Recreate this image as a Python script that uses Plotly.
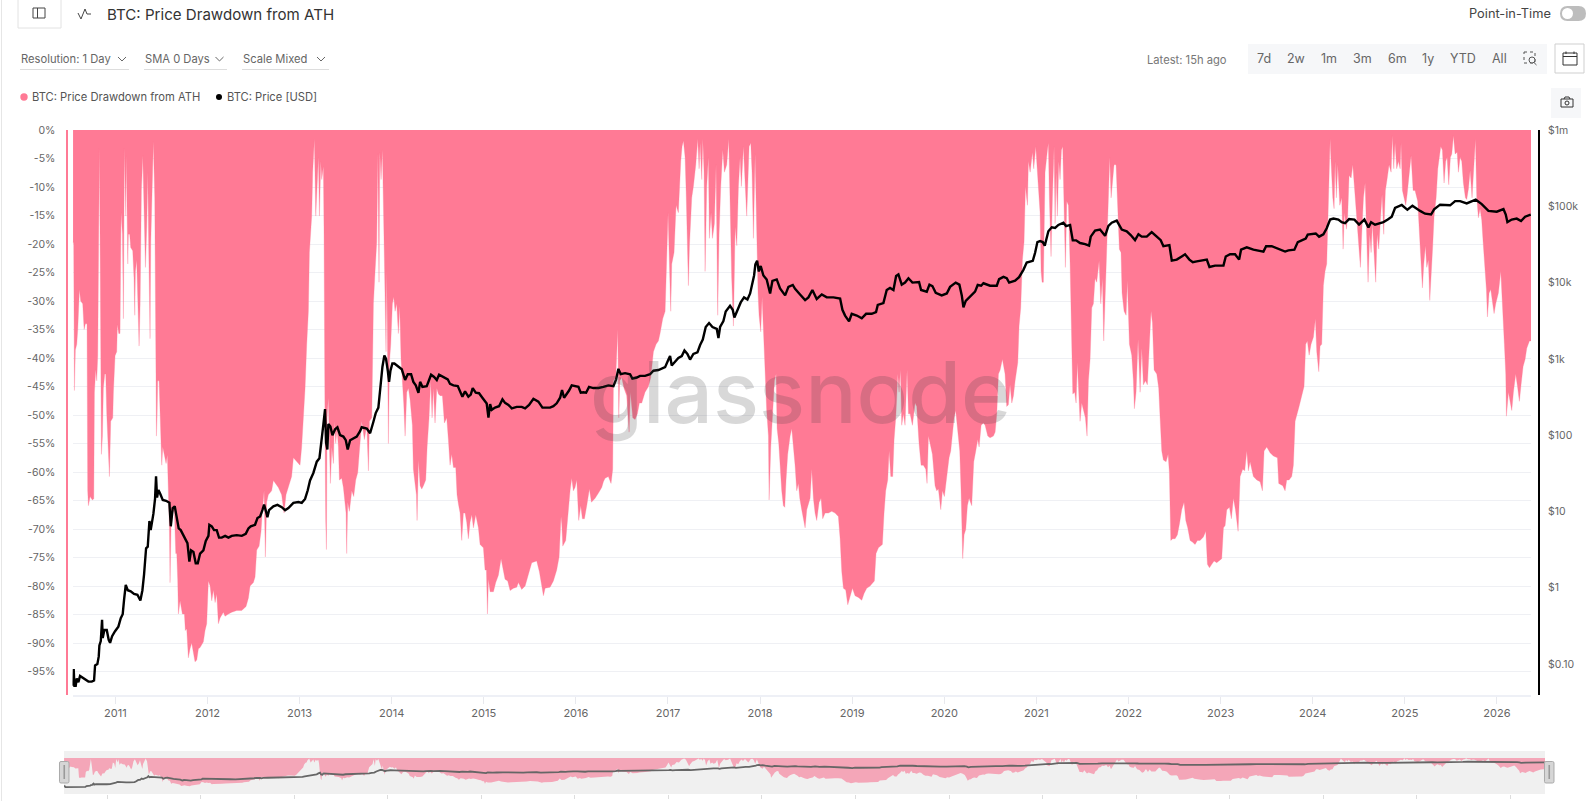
import plotly.graph_objects as go

W, H = 1596, 801
PINK = "#ff7a95"
GRID = "#eff0f4"
GREY = "#666666"
FONT = "Inter"

# ---- drawdown from ATH ----
dd_years = [
    2010.541, 2010.548, 2010.556, 2010.566, 2010.581, 2010.592, 2010.610, 2010.624, 2010.646, 2010.661, 2010.675, 2010.693,
    2010.700, 2010.708, 2010.726, 2010.751, 2010.766, 2010.773, 2010.787, 2010.798, 2010.809, 2010.820, 2010.827, 2010.834,
    2010.842, 2010.849, 2010.860, 2010.870, 2010.885, 2010.896, 2010.907, 2010.921, 2010.936, 2010.950, 2010.972, 2010.979,
    2010.997, 2011.015, 2011.022, 2011.037, 2011.051, 2011.062, 2011.077, 2011.088, 2011.098, 2011.113, 2011.120, 2011.135,
    2011.142, 2011.156, 2011.167, 2011.189, 2011.203, 2011.211, 2011.218, 2011.232, 2011.243, 2011.258, 2011.269, 2011.283,
    2011.298, 2011.312, 2011.327, 2011.341, 2011.352, 2011.363, 2011.377, 2011.385, 2011.399, 2011.413, 2011.428, 2011.439,
    2011.446, 2011.453, 2011.460, 2011.475, 2011.486, 2011.497, 2011.504, 2011.515, 2011.533, 2011.551, 2011.565, 2011.576,
    2011.587, 2011.594, 2011.605, 2011.623, 2011.641, 2011.656, 2011.667, 2011.677, 2011.685, 2011.703, 2011.728, 2011.750,
    2011.760, 2011.775, 2011.793, 2011.811, 2011.829, 2011.847, 2011.865, 2011.884, 2011.902, 2011.920, 2011.956, 2011.974,
    2011.992, 2012.010, 2012.029, 2012.047, 2012.065, 2012.083, 2012.101, 2012.119, 2012.137, 2012.173, 2012.191, 2012.228,
    2012.264, 2012.318, 2012.372, 2012.419, 2012.445, 2012.463, 2012.499, 2012.517, 2012.535, 2012.561, 2012.582, 2012.597,
    2012.615, 2012.629, 2012.643, 2012.661, 2012.697, 2012.716, 2012.741, 2012.770, 2012.806, 2012.832, 2012.853, 2012.878,
    2012.914, 2012.933, 2012.969, 2013.005, 2013.023,
    2013.060, 2013.078, 2013.096, 2013.107, 2013.122, 2013.132, 2013.143, 2013.161, 2013.176, 2013.194, 2013.205, 2013.216,
    2013.230, 2013.241, 2013.259, 2013.266, 2013.270, 2013.277, 2013.284, 2013.292, 2013.299, 2013.313, 2013.324, 2013.335,
    2013.350, 2013.368, 2013.378, 2013.393, 2013.407, 2013.422, 2013.433, 2013.458, 2013.476, 2013.494, 2013.505, 2013.512,
    2013.523, 2013.541, 2013.567, 2013.588, 2013.610, 2013.632, 2013.657, 2013.675, 2013.704, 2013.730, 2013.748, 2013.759,
    2013.784, 2013.802, 2013.820, 2013.838, 2013.849, 2013.863, 2013.871, 2013.885, 2013.900, 2013.914, 2013.929, 2013.939,
    2013.947, 2013.954, 2013.965, 2013.976, 2013.990, 2014.008, 2014.023, 2014.037, 2014.055, 2014.073, 2014.088, 2014.102,
    2014.117, 2014.131, 2014.146, 2014.164, 2014.182, 2014.200, 2014.225, 2014.236, 2014.254, 2014.269, 2014.276, 2014.291,
    2014.309, 2014.327, 2014.345, 2014.370, 2014.385, 2014.406, 2014.424, 2014.439, 2014.453, 2014.471, 2014.490, 2014.508,
    2014.526, 2014.551, 2014.573, 2014.598, 2014.616, 2014.634, 2014.652, 2014.671, 2014.696, 2014.710, 2014.725, 2014.743,
    2014.761, 2014.779, 2014.797, 2014.815, 2014.833, 2014.851, 2014.870, 2014.888, 2014.913, 2014.942, 2014.960, 2014.978,
    2014.996, 2015.014, 2015.029, 2015.040, 2015.051, 2015.069, 2015.105, 2015.130, 2015.159, 2015.188, 2015.213, 2015.231,
    2015.260, 2015.286, 2015.322, 2015.358, 2015.376, 2015.412, 2015.449, 2015.485, 2015.521, 2015.575, 2015.604, 2015.630,
    2015.648, 2015.666,
    2015.720, 2015.756, 2015.792, 2015.818, 2015.839, 2015.847, 2015.858, 2015.890, 2015.901, 2015.919, 2015.937, 2015.955,
    2015.973, 2015.991, 2016.010, 2016.031, 2016.053, 2016.071, 2016.093, 2016.118, 2016.147, 2016.169, 2016.209, 2016.245,
    2016.281, 2016.299, 2016.317, 2016.353, 2016.382, 2016.400, 2016.408, 2016.433, 2016.455, 2016.466, 2016.476, 2016.498,
    2016.523, 2016.552, 2016.578, 2016.592, 2016.618, 2016.643, 2016.668, 2016.690, 2016.715, 2016.751, 2016.788, 2016.813,
    2016.842, 2016.871, 2016.896, 2016.914, 2016.943, 2016.969, 2016.987, 2017.001, 2017.016, 2017.030, 2017.041, 2017.066,
    2017.088, 2017.113, 2017.139, 2017.153, 2017.168, 2017.186, 2017.197, 2017.222, 2017.233, 2017.258, 2017.276, 2017.302,
    2017.323, 2017.338, 2017.349, 2017.367, 2017.378, 2017.392, 2017.403, 2017.421, 2017.439, 2017.450, 2017.468, 2017.483,
    2017.504, 2017.522, 2017.540, 2017.555, 2017.573, 2017.595, 2017.613, 2017.638, 2017.660, 2017.674, 2017.692, 2017.711,
    2017.729, 2017.747, 2017.765, 2017.783, 2017.797, 2017.819, 2017.837, 2017.855, 2017.881, 2017.899, 2017.913, 2017.928,
    2017.946, 2017.964, 2017.978, 2017.989, 2018.007, 2018.022, 2018.036, 2018.047, 2018.072, 2018.091, 2018.098, 2018.116,
    2018.138, 2018.156, 2018.174, 2018.185, 2018.203, 2018.217, 2018.235, 2018.253, 2018.268, 2018.282, 2018.300, 2018.326,
    2018.344,
    2018.380, 2018.398, 2018.416, 2018.431, 2018.452, 2018.470, 2018.489, 2018.507, 2018.543, 2018.561, 2018.579, 2018.597,
    2018.615, 2018.641, 2018.662, 2018.680, 2018.706, 2018.742, 2018.778, 2018.814, 2018.850, 2018.869, 2018.887, 2018.905,
    2018.930, 2018.952, 2018.977, 2019.003, 2019.031, 2019.068, 2019.104, 2019.129, 2019.158, 2019.194, 2019.241, 2019.259,
    2019.285, 2019.328, 2019.346, 2019.364, 2019.386, 2019.401, 2019.419, 2019.440, 2019.455, 2019.473, 2019.495, 2019.509,
    2019.524, 2019.538, 2019.556, 2019.574, 2019.596, 2019.611, 2019.629, 2019.654, 2019.683, 2019.701, 2019.726, 2019.748,
    2019.773, 2019.799, 2019.813, 2019.828, 2019.846, 2019.871, 2019.900, 2019.918, 2019.936, 2019.962, 2019.980, 2020.001,
    2020.027, 2020.052, 2020.070, 2020.088, 2020.106, 2020.124, 2020.146, 2020.168, 2020.182, 2020.200, 2020.215, 2020.233,
    2020.251, 2020.269, 2020.298, 2020.320, 2020.342, 2020.363, 2020.378, 2020.400, 2020.425, 2020.443, 2020.472, 2020.497,
    2020.533, 2020.552, 2020.570, 2020.588, 2020.606, 2020.631, 2020.660, 2020.678, 2020.696, 2020.714, 2020.733, 2020.751,
    2020.769, 2020.798, 2020.812, 2020.830, 2020.848, 2020.866, 2020.881, 2020.903, 2020.913, 2020.932, 2020.957, 2020.971,
    2020.993, 2021.008, 2021.022,
    2021.040, 2021.051, 2021.062, 2021.076, 2021.094, 2021.120, 2021.130, 2021.141, 2021.159, 2021.174, 2021.192, 2021.203,
    2021.214, 2021.228, 2021.243, 2021.257, 2021.272, 2021.286, 2021.301, 2021.315, 2021.330, 2021.348, 2021.366, 2021.384,
    2021.395, 2021.416, 2021.431, 2021.445, 2021.460, 2021.474, 2021.492, 2021.510, 2021.532, 2021.550, 2021.565, 2021.583,
    2021.601, 2021.619, 2021.637, 2021.655, 2021.681, 2021.699, 2021.717, 2021.731, 2021.749, 2021.764, 2021.782, 2021.796,
    2021.811, 2021.829, 2021.843, 2021.865, 2021.880, 2021.901, 2021.919, 2021.930, 2021.952, 2021.974, 2021.988, 2022.010,
    2022.035, 2022.053, 2022.064, 2022.082, 2022.104, 2022.126, 2022.144, 2022.162, 2022.184, 2022.205, 2022.227, 2022.245,
    2022.260, 2022.278, 2022.307, 2022.328, 2022.343, 2022.361, 2022.379, 2022.408, 2022.430, 2022.444, 2022.459, 2022.480,
    2022.506, 2022.531, 2022.553, 2022.578, 2022.603, 2022.622, 2022.643, 2022.669, 2022.694, 2022.723, 2022.748, 2022.777,
    2022.813, 2022.839, 2022.857, 2022.879, 2022.904, 2022.929, 2022.958, 2023.012, 2023.031, 2023.049, 2023.067, 2023.096,
    2023.117, 2023.139, 2023.161, 2023.190, 2023.212, 2023.240, 2023.262, 2023.284, 2023.302, 2023.320, 2023.356, 2023.393,
    2023.429, 2023.454, 2023.472, 2023.501, 2023.537, 2023.573, 2023.617, 2023.631, 2023.675,
    2023.700, 2023.718, 2023.743, 2023.772, 2023.790, 2023.809, 2023.827, 2023.852, 2023.881, 2023.906, 2023.924, 2023.942,
    2023.961, 2023.982, 2024.008, 2024.029, 2024.044, 2024.066, 2024.080, 2024.098, 2024.116, 2024.134, 2024.152, 2024.163,
    2024.178, 2024.189, 2024.199, 2024.218, 2024.232, 2024.243, 2024.257, 2024.272, 2024.294, 2024.315, 2024.330, 2024.344,
    2024.366, 2024.380, 2024.395, 2024.417, 2024.435, 2024.453, 2024.475, 2024.496, 2024.518, 2024.532, 2024.551, 2024.569,
    2024.587, 2024.601, 2024.619, 2024.634, 2024.648, 2024.666, 2024.684, 2024.699, 2024.717, 2024.735, 2024.753, 2024.771,
    2024.789, 2024.807, 2024.829, 2024.851, 2024.865, 2024.880, 2024.894, 2024.912, 2024.931, 2024.949, 2024.959, 2024.974,
    2024.996, 2025.010, 2025.025, 2025.046, 2025.068, 2025.090, 2025.111, 2025.140, 2025.159, 2025.177, 2025.191, 2025.206,
    2025.224, 2025.238, 2025.256, 2025.271, 2025.289, 2025.303, 2025.318, 2025.340, 2025.358, 2025.372, 2025.390, 2025.408,
    2025.426, 2025.444, 2025.459, 2025.477, 2025.495, 2025.510, 2025.528, 2025.546, 2025.568, 2025.582, 2025.600, 2025.618,
    2025.636, 2025.658, 2025.672, 2025.691, 2025.709, 2025.730, 2025.749, 2025.767, 2025.781, 2025.799, 2025.817, 2025.835,
    2025.850, 2025.872, 2025.886, 2025.897, 2025.915, 2025.933, 2025.951, 2025.969, 2025.987, 2026.016, 2026.042, 2026.060,
    2026.081, 2026.096, 2026.103, 2026.125, 2026.147, 2026.161, 2026.179, 2026.204, 2026.226, 2026.244, 2026.262, 2026.284,
    2026.306, 2026.324, 2026.353, 2026.371,
]
dd_pct = [
    -19.6, -20, -45.7, -38.6, -37.6, -35, -28, -30, -30.5, -35, -34, -34,
    -63.3, -65.9, -64.3, -64.9, -64.7, -46, -42, -44, -39.6, -18.3, -3.2, -18.3,
    -39.6, -56.9, -53.7, -45.3, -42.8, -42.8, -49.8, -56.9, -60.8, -51.1, -50.5, -46,
    -39.6, -38.9, -34.1, -35.7, -35.7, -14.5, -18.3, -33.1, -3.2, -15.1, -4.5, -23.5,
    -18.3, -18.3, -20.6, -21.2, -26.1, -32.5, -24.8, -22.8, -29.3, -37.9, -30.6, -10.6,
    -4.5, -14.5, -24.1, -17, -7.4, -20.9, -36.6, -19.6, -7.4, -2, -11.9, -39.6,
    -53.7, -50.5, -44, -44, -48.6, -55, -58.8, -55.6, -57, -58.5, -57, -63.3,
    -69.8, -79.4, -69.8, -67.2, -66.6, -74.3, -74.3, -78.8, -84.9, -82.6, -84.9, -84.9,
    -87.8, -87.5, -92.6, -91, -90, -91.6, -93.3, -93, -91, -90.8, -89.8, -87.8,
    -86.6, -79.1, -80, -82.6, -80.7, -82.9, -81.4, -86.6, -85.6, -84.6, -85.3, -84.9,
    -84.6, -84.3, -84.3, -83.6, -82.1, -80, -79.4, -78.4, -73.7, -73, -70.4, -66.6,
    -63.3, -74.9, -65.3, -64, -63.3, -61.5, -62, -62.7, -64, -67.2, -64, -62.7,
    -60.8, -57.5, -58.2, -58.8, -55.6,
    -45.3, -37.6, -31.8, -21.5, -15.8, -15.1, -7.4, -1.6, -15.1, -8.7, -4.8, -15.1,
    -5.5, -8.7, -6.4, -18.3, -44, -53.7, -68.5, -73.6, -50.5, -47, -55, -62,
    -55.6, -58.5, -51.1, -55, -52.4, -55.6, -61.4, -61.1, -62.7, -65.3, -67.2, -74.3,
    -65.3, -66.9, -63.3, -64.3, -61.4, -60.1, -54.3, -51.1, -54.3, -51.8, -59.8, -51.1,
    -50.5, -30.5, -24.8, -19.6, -4.2, -26.7, -3.9, -8.7, -3.5, -18.3, -26.7, -38.9,
    -24.8, -44, -55, -40.8, -37.6, -30.5, -29.3, -31.8, -30.5, -35.7, -30.9, -40.2,
    -44, -47.9, -53.7, -46, -45.3, -47.3, -51.8, -59.5, -62, -64, -68.5, -57.9,
    -62.4, -63, -62.4, -61.4, -55.6, -50.5, -44, -50.5, -45.3, -51.4, -45.3, -46.3,
    -46.6, -46.6, -51.4, -50.5, -54.3, -58.8, -56.9, -59.2, -59.2, -64, -65.6, -67.2,
    -72, -67.2, -67.2, -68.8, -71.7, -68.8, -67.5, -69.8, -67.5, -69.8, -72.7, -73,
    -73.3, -77.2, -77.2, -84.9, -78.8, -81, -81, -79.4, -78.1, -75.2, -77.5, -78.8,
    -79.1, -80.8, -80.4, -80.2, -79.4, -80.6, -80, -77.8, -75.9, -75.6, -77.5, -80,
    -81.7, -80.4,
    -80.2, -79.1, -77.2, -74.9, -67.8, -69.1, -73, -72, -69.8, -65.9, -63.3, -61.1,
    -63.3, -62.7, -61.4, -68.5, -65.9, -68.2, -68.2, -65.9, -63, -65.3, -64.6, -63.7,
    -62.7, -61.7, -61.1, -60.8, -62, -59.5, -44, -43.4, -35, -50.5, -44, -43.4,
    -45.3, -46.6, -53, -46, -50.5, -50.8, -49.8, -47.9, -47.9, -46, -45, -43.4,
    -38.9, -37.6, -37, -35.7, -33.1, -31.8, -23.5, -14.5, -23.5, -31.8, -23.5, -21.5,
    -13.2, -14.5, -5.5, -2.9, -1.9, -4.8, -10.6, -27.3, -20.3, -11.9, -9.9, -6.1,
    -1.6, -6.8, -2.3, -8.7, -1.6, -7.4, -24.8, -9.9, -4.8, -19, -14.5, -19,
    -16.4, -6.1, -32.5, -18.3, -9.9, -3.5, -7.4, -6.1, -1.6, -12.5, -26, -34.4,
    -17, -20.3, -9.9, -4.8, -9.9, -2.9, -10.6, -15.1, -2.9, -2.3, -7.4, -19,
    -4.2, -20.3, -28.6, -32.5, -35.4, -29.3, -34.4, -40.8, -49.2, -53.7, -64.9, -55.6,
    -47.9, -44, -42.8, -52.4, -55, -59.5, -63.3, -65.9, -66.2, -61.4, -56.9, -53.7,
    -52.4,
    -58.8, -63.3, -62, -64.6, -66.6, -68.2, -69.8, -66.6, -64.6, -59.5, -64.6, -67.2,
    -68.5, -65.3, -64.6, -68.2, -67.2, -67.2, -66.9, -67.2, -67.8, -71.7, -77.5, -80.4,
    -80.7, -83.3, -81.7, -80.4, -81.7, -82, -82.5, -81.3, -80.4, -80, -79.1, -74.3,
    -73.3, -72.7, -67.2, -63.3, -61.4, -56.3, -60.8, -60.8, -54.3, -50.5, -42.8, -46,
    -42.1, -51.8, -49.8, -51.8, -42.1, -49.8, -49.8, -51.8, -47.9, -48.5, -55, -58.8,
    -58.8, -59.5, -62, -53.7, -55, -56.9, -62.4, -63.3, -63, -66.6, -63.3, -64.3,
    -60.8, -57.5, -56.3, -53, -50.5, -49.2, -52.4, -56.3, -63.3, -75.2, -71, -70.1,
    -65.9, -64.6, -65.9, -58.2, -56.3, -54.3, -55.6, -51.8, -51.4, -51.8, -53.7, -54,
    -53.7, -53, -49.8, -42.8, -42.1, -40.2, -42.8, -48.5, -48.2, -44.7, -47.9, -46.6,
    -44, -40.8, -34.4, -31.2, -22.8, -19.6, -9.9, -13.2, -5.5, -7.4, -3.9, -6.8,
    -2.9, -6.8, -10.6,
    -14.5, -24.8, -26.7, -26.7, -7.4, -3.5, -2.3, -11.9, -22.2, -11.9, -2.9, -16.4,
    -7.4, -15.1, -5.5, -8.7, -3.5, -2.9, -13.8, -24.1, -12.5, -13.2, -23.5, -42.1,
    -46.3, -46, -47.9, -40.8, -45.3, -51.1, -47.9, -49.2, -50.5, -53.7, -44, -40.2,
    -31.2, -30.5, -26, -26.7, -23, -30.5, -26, -37, -28, -19.6, -11.9, -4.8,
    -11.9, -8.7, -6.1, -6.1, -12.5, -20.9, -21.5, -28.6, -31.8, -32.5, -26.4, -37.6,
    -39.5, -44, -48.9, -46, -36.7, -46, -38.3, -44.7, -44, -44.7, -37.6, -31.8,
    -33.8, -42.1, -42.8, -45.3, -50.5, -56.3, -57.9, -58.2, -56.9, -60.1, -72, -71.7,
    -71.7, -71, -69.1, -66.6, -65.3, -68.5, -69.8, -72, -72.3, -72.7, -72, -72,
    -71.4, -70.4, -76.2, -76.8, -76.2, -75.6, -75.9, -75.2, -69.8, -69.4, -66.6, -66.2,
    -68.2, -64.6, -66.6, -70.4, -60.8, -59.5, -59.8, -56.3, -59.8, -58.2, -60.8, -61.4,
    -61.7, -63.3, -56.3, -55.6, -56.6, -57.2, -57.5, -62, -62.4,
    -63.3, -61.4, -61.4, -60.8, -58.8, -51.1, -49.8, -48.5, -46.6, -45, -37.6, -37,
    -39.5, -37.6, -36.3, -33.1, -38.9, -42.4, -37.9, -37.6, -27.3, -24.8, -23.5, -17,
    -5.5, -1.6, -5.5, -11.9, -13.8, -5.5, -11.9, -6.1, -13.2, -11.9, -20.9, -14.5,
    -17.4, -15.1, -8, -8.4, -6.1, -9.9, -15.1, -18.3, -24.1, -18.3, -11.9, -9.3,
    -18.3, -26.7, -18.3, -21.5, -16.4, -21.5, -26.7, -18.3, -20.9, -15.8, -11.3, -18.3,
    -10.6, -8.7, -6.1, -7.4, -1, -6.8, -2.3, -6.8, -5.5, -6.8, -2.3, -10.6,
    -11.9, -13.2, -11.3, -7.4, -4.5, -10.6, -10.6, -12.5, -18.3, -22.2, -27.7, -23.5,
    -20.3, -24.1, -22.8, -29.9, -22.8, -20.3, -15.1, -11.9, -6.8, -5.1, -2.9, -3.5,
    -9.3, -5.5, -4.8, -9.6, -4.8, -4.2, -1, -4.2, -3.9, -7.4, -4.8, -5.5,
    -9.3, -11.9, -12.2, -10.3, -7.1, -11.9, -5.5, -1.6, -11.9, -15.4, -13.8, -15.8,
    -19.6, -24.8, -28, -32.8, -28.6, -28, -30.5, -32.2, -30.5, -28.6, -24.8, -29.9,
    -37.6, -42.8, -50.2, -46, -47.9, -49.2, -46, -42.8, -45.3, -47.6, -44.7, -41.5,
    -40.2, -38.3, -37, -37,
]

# ---- BTC price in USD ----
price_years = [
    2010.541, 2010.548, 2010.556, 2010.570, 2010.581, 2010.599, 2010.617, 2010.646, 2010.671, 2010.708, 2010.744, 2010.769,
    2010.780, 2010.805, 2010.820, 2010.827, 2010.842, 2010.856, 2010.863, 2010.881, 2010.907, 2010.928, 2010.943, 2010.965,
    2010.997, 2011.033, 2011.059, 2011.080, 2011.095, 2011.113, 2011.135, 2011.167, 2011.203, 2011.240, 2011.272, 2011.294,
    2011.312, 2011.334, 2011.352, 2011.370, 2011.384, 2011.413, 2011.431, 2011.442, 2011.453, 2011.468, 2011.486, 2011.515,
    2011.551, 2011.587, 2011.602, 2011.623, 2011.645, 2011.667, 2011.688, 2011.710, 2011.732, 2011.757, 2011.783, 2011.804,
    2011.822, 2011.848, 2011.873, 2011.895, 2011.920, 2011.956, 2011.982, 2012.011, 2012.021, 2012.047, 2012.072, 2012.101,
    2012.126, 2012.155, 2012.192, 2012.228, 2012.264, 2012.318, 2012.373, 2012.416, 2012.445, 2012.470, 2012.517, 2012.543,
    2012.572, 2012.597, 2012.615, 2012.637, 2012.651, 2012.669, 2012.716, 2012.760, 2012.807, 2012.843, 2012.879, 2012.933,
    2012.988, 2013.024,
    2013.060, 2013.089, 2013.114, 2013.150, 2013.187, 2013.216, 2013.241, 2013.259, 2013.277, 2013.288, 2013.302, 2013.313,
    2013.335, 2013.357, 2013.386, 2013.411, 2013.440, 2013.476, 2013.502, 2013.523, 2013.549, 2013.585, 2013.621, 2013.657,
    2013.675, 2013.730, 2013.766, 2013.802, 2013.827, 2013.856, 2013.878, 2013.900, 2013.921, 2013.939, 2013.958, 2013.972,
    2013.987, 2014.008, 2014.030, 2014.073, 2014.110, 2014.146, 2014.175, 2014.211, 2014.236, 2014.262, 2014.291, 2014.309,
    2014.334, 2014.381, 2014.406, 2014.428, 2014.461, 2014.490, 2014.515, 2014.562, 2014.609, 2014.634, 2014.671, 2014.718,
    2014.743, 2014.768, 2014.797, 2014.833, 2014.859, 2014.880, 2014.913, 2014.949, 2014.985, 2015.032, 2015.051, 2015.069,
    2015.087, 2015.123, 2015.166, 2015.203, 2015.231, 2015.268, 2015.304, 2015.358, 2015.412, 2015.449, 2015.492, 2015.539,
    2015.593, 2015.637, 2015.684,
    2015.720, 2015.756, 2015.792, 2015.829, 2015.850, 2015.872, 2015.901, 2015.926, 2015.955, 2015.984, 2016.028, 2016.053,
    2016.082, 2016.111, 2016.143, 2016.190, 2016.245, 2016.299, 2016.353, 2016.408, 2016.437, 2016.462, 2016.487, 2016.534,
    2016.589, 2016.614, 2016.661, 2016.697, 2016.751, 2016.806, 2016.842, 2016.896, 2016.969, 2017.005, 2017.023, 2017.041,
    2017.077, 2017.113, 2017.150, 2017.179, 2017.211, 2017.240, 2017.276, 2017.320, 2017.349, 2017.378, 2017.410, 2017.446,
    2017.483, 2017.530, 2017.548, 2017.566, 2017.602, 2017.627, 2017.674, 2017.703, 2017.721, 2017.754, 2017.790, 2017.826,
    2017.863, 2017.892, 2017.917, 2017.935, 2017.949, 2017.968, 2017.986, 2018.007, 2018.036, 2018.072, 2018.109, 2018.134,
    2018.181, 2018.217, 2018.272, 2018.308, 2018.355,
    2018.380, 2018.434, 2018.489, 2018.525, 2018.568, 2018.615, 2018.670, 2018.724, 2018.796, 2018.869, 2018.894, 2018.923,
    2018.966, 2018.995, 2019.050, 2019.104, 2019.151, 2019.212, 2019.259, 2019.278, 2019.339, 2019.375, 2019.411, 2019.448,
    2019.477, 2019.502, 2019.538, 2019.574, 2019.611, 2019.654, 2019.726, 2019.748, 2019.810, 2019.839, 2019.871, 2019.907,
    2019.972, 2020.027, 2020.063, 2020.124, 2020.164, 2020.190, 2020.208, 2020.233, 2020.280, 2020.334, 2020.363, 2020.400,
    2020.425, 2020.497, 2020.570, 2020.595, 2020.642, 2020.678, 2020.704, 2020.769, 2020.812, 2020.859, 2020.895, 2020.961,
    2020.986, 2021.011,
    2021.040, 2021.069, 2021.091, 2021.130, 2021.167, 2021.203, 2021.239, 2021.293, 2021.322, 2021.366, 2021.395, 2021.431,
    2021.474, 2021.529, 2021.572, 2021.590, 2021.637, 2021.691, 2021.746, 2021.782, 2021.818, 2021.872, 2021.927, 2021.981,
    2022.024, 2022.071, 2022.108, 2022.144, 2022.198, 2022.252, 2022.307, 2022.350, 2022.379, 2022.444, 2022.470, 2022.524,
    2022.578, 2022.614, 2022.661, 2022.698, 2022.741, 2022.795, 2022.850, 2022.879, 2022.940, 2023.031, 2023.056, 2023.103,
    2023.157, 2023.201, 2023.222, 2023.284, 2023.356, 2023.465, 2023.494, 2023.555, 2023.628,
    2023.700, 2023.736, 2023.801, 2023.838, 2023.881, 2023.924, 2023.946, 2023.990, 2024.033, 2024.069, 2024.116, 2024.152,
    2024.189, 2024.225, 2024.279, 2024.315, 2024.351, 2024.395, 2024.453, 2024.503, 2024.561, 2024.605, 2024.634, 2024.677,
    2024.732, 2024.768, 2024.815, 2024.858, 2024.894, 2024.967, 2025.028, 2025.083, 2025.166, 2025.220, 2025.285, 2025.318,
    2025.383, 2025.437, 2025.492, 2025.546, 2025.600, 2025.672, 2025.770, 2025.835, 2025.908, 2025.998, 2026.071, 2026.096,
    2026.114, 2026.161, 2026.215, 2026.262, 2026.306, 2026.367,
]
price_usd = [
    0.052, 0.086, 0.052, 0.052, 0.065, 0.058, 0.07, 0.066, 0.063, 0.059, 0.059, 0.061,
    0.096, 0.10, 0.126, 0.176, 0.2, 0.38, 0.22, 0.28, 0.28, 0.208, 0.19, 0.232,
    0.27, 0.31, 0.40, 0.45, 0.70, 1.09, 0.93, 0.90, 0.83, 0.81, 0.68, 0.93,
    1.5, 3.3, 3.45, 7.5, 5.7, 9.3, 14.6, 29, 15.3, 19.2, 17.2, 14.2,
    13.8, 13, 6.4, 11.1, 11.7, 8.4, 6.0, 5.7, 5.1, 4.55, 3.85, 2.2,
    3.1, 2.95, 2.1, 2.1, 2.8, 3.1, 4.1, 4.8, 6.7, 6.4, 5.7, 5.7,
    4.55, 4.55, 4.8, 4.55, 4.8, 4.9, 4.8, 5.1, 6, 6.4, 6.7, 8.2,
    8.6, 10.4, 12.3, 9.9, 8.4, 10.4, 11.7, 12.2, 11.4, 10.4, 11.1, 13,
    13.3, 13,
    14.6, 19, 25.5, 32, 45, 50, 85, 140, 220, 80, 65, 140,
    130, 100, 120, 127, 100, 96, 86, 65, 86, 91, 96, 113,
    127, 122, 106, 150, 195, 230, 430, 790, 1110, 1000, 700, 500,
    700, 870, 870, 800, 730, 530, 630, 630, 500, 450, 360, 500,
    430, 440, 540, 620, 580, 530, 620, 580, 540, 470, 450, 440,
    375, 320, 375, 320, 340, 415, 360, 355, 310, 260, 170, 255,
    215, 230, 240, 295, 265, 250, 225, 235, 235, 225, 250, 300,
    275, 230, 230,
    230, 240, 262, 310, 390, 310, 345, 385, 450, 440, 430, 360,
    365, 360, 430, 415, 415, 430, 450, 440, 540, 740, 630, 650,
    630, 550, 570, 600, 600, 630, 700, 715, 780, 980, 1090, 820,
    920, 1030, 1090, 1290, 1160, 980, 1160, 1220, 1520, 1790, 2620, 2950,
    2620, 2470, 1870, 2620, 3130, 4170, 4960, 4400, 3490, 4400, 5500, 6400,
    6000, 7200, 10000, 12400, 17300, 19400, 14000, 16500, 12400, 11000, 7200, 10500,
    11000, 8400, 6800, 8800, 9300,
    8300, 7000, 5900, 6400, 8000, 6100, 7000, 6400, 6400, 6200, 4400, 3700,
    3100, 3900, 3700, 3400, 3900, 3900, 4100, 5100, 5400, 8000, 8500, 8000,
    12200, 12800, 9400, 10000, 11400, 10000, 10200, 8000, 7600, 9400, 9000, 7350,
    6800, 7200, 8800, 10000, 9400, 6800, 4750, 5750, 6600, 7600, 9300, 9100,
    9800, 9100, 9100, 11100, 11900, 11400, 10000, 10600, 11800, 14700, 18300, 19300,
    24600, 34000,
    35000, 34000, 30500, 47000, 53000, 52000, 57000, 61000, 55000, 57000, 35800, 35800,
    33000, 32000, 30500, 40000, 48000, 49500, 41000, 55500, 61000, 65000, 49500, 47000,
    42000, 36000, 43000, 40000, 40000, 46000, 40000, 36000, 30000, 31000, 19400, 20000,
    22000, 23500, 20000, 18500, 19000, 19400, 20000, 16000, 16700, 16700, 22000, 23500,
    23500, 20000, 27000, 29000, 27000, 25500, 30000, 30000, 27500,
    25500, 26500, 27000, 34000, 36000, 37800, 42500, 43000, 44000, 40000, 43000, 51500,
    67000, 69000, 67000, 62000, 60000, 68000, 67000, 57500, 67000, 53000, 62000, 57500,
    60000, 62000, 67000, 73000, 95000, 104000, 90000, 102000, 87000, 80000, 78000, 91000,
    105000, 103000, 103000, 117000, 117000, 109000, 122000, 107000, 87000, 85000, 92000, 78000,
    62000, 67000, 69000, 64000, 73000, 78000,
]
assert len(dd_years) == len(dd_pct), (len(dd_years), len(dd_pct))
assert len(price_years) == len(price_usd), (len(price_years), len(price_usd))

year_ticks = list(range(2011, 2027))
dd_ticks = [-5 * i for i in range(0, 20)]
dd_labels = [f"{t}%" for t in dd_ticks]
price_ticks = [1e6, 1e5, 1e4, 1e3, 100, 10, 1, 0.1]
price_labels = ["$1m", "$100k", "$10k", "$1k", "$100", "$10", "$1", "$0.10"]
range_buttons = [("7d", 1264), ("2w", 1296), ("1m", 1329), ("3m", 1362), ("6m", 1397), ("1y", 1428), ("YTD", 1463), ("All", 1499)]


def fx(x):
    return x / W


def fy(y):
    return 1 - y / H


shapes, notes = [], []


def text(x, y, s, size=12, color=GREY, anchor="left", weight=None):
    font = dict(family=FONT, size=size, color=color)
    if weight:
        font["weight"] = weight
    notes.append(dict(x=fx(x), y=fy(y), xref="paper", yref="paper", text=s, showarrow=False, xanchor=anchor,
                      yanchor="middle", borderpad=0, font=font))


def rect(x0, y0, x1, y1, fill="rgba(0,0,0,0)", line=None, lw=1, layer="above"):
    shapes.append(dict(type="rect", xref="paper", yref="paper", x0=fx(x0), x1=fx(x1), y0=fy(y0), y1=fy(y1),
                       fillcolor=fill, line=dict(color=line or "rgba(0,0,0,0)", width=lw if line else 0), layer=layer))


def circle(cx, cy, r, fill="rgba(0,0,0,0)", line=None, lw=1):
    shapes.append(dict(type="circle", xref="paper", yref="paper", x0=fx(cx - r), x1=fx(cx + r), y0=fy(cy - r), y1=fy(cy + r),
                       fillcolor=fill, line=dict(color=line or "rgba(0,0,0,0)", width=lw if line else 0)))


def poly(pts, color="#555555", lw=1, dash="solid"):
    d = "M " + " L ".join(f"{fx(x):.5f} {fy(y):.5f}" for x, y in pts)
    shapes.append(dict(type="path", xref="paper", yref="paper", path=d, line=dict(color=color, width=lw, dash=dash)))


def rounded(x0, y0, x1, y1, r, fill, line=None, lw=1):
    p = [(x0 + r, y0), (x1 - r, y0), (x1, y0), (x1, y0 + r), (x1, y1 - r), (x1, y1), (x1 - r, y1), (x0 + r, y1), (x0, y1), (x0, y1 - r), (x0, y0 + r), (x0, y0)]
    P = [f"{fx(a):.5f} {fy(b):.5f}" for a, b in p]
    d = f"M {P[0]} L {P[1]} Q {P[2]} {P[3]} L {P[4]} Q {P[5]} {P[6]} L {P[7]} Q {P[8]} {P[9]} L {P[10]} Q {P[11]} {P[0]} Z"
    shapes.append(dict(type="path", xref="paper", yref="paper", path=d, fillcolor=fill,
                       line=dict(color=line or "rgba(0,0,0,0)", width=lw if line else 0)))


fig = go.Figure()

# main chart
fig.add_trace(go.Scatter(x=dd_years, y=dd_pct, mode="lines", fill="tozeroy", fillcolor=PINK,
                         line=dict(color=PINK, width=0.3), xaxis="x", yaxis="y", hoverinfo="skip"))
fig.add_trace(go.Scatter(x=price_years, y=price_usd, mode="lines", line=dict(color="#000000", width=2.4),
                         xaxis="x", yaxis="y2", hoverinfo="skip"))
# navigator at the bottom
fig.add_trace(go.Scatter(x=dd_years, y=dd_pct, mode="lines", fill="tozeroy", fillcolor="#f4a6b8",
                         line=dict(color="#f4a6b8", width=0), xaxis="x2", yaxis="y3", hoverinfo="skip"))
fig.add_trace(go.Scatter(x=price_years, y=price_usd, mode="lines", line=dict(color="#666666", width=1.8),
                         xaxis="x2", yaxis="y4", hoverinfo="skip"))

# header
rect(1, 0, 2, H, fill="#e6e6e6")
rect(18, -2, 61, 28, fill="#ffffff", line="#e2e2e2")
rect(33, 8, 45, 18, line="#444444", lw=1)
poly([(37.5, 8), (37.5, 18)], "#444444")
poly([(78, 13), (81, 19), (85, 9), (87, 14), (91, 14)], "#444444")
text(106, 14, "BTC: Price Drawdown from ATH", 15.1, "#333333")
text(1468, 13.5, "Point-in-Time", 12.8, "#444444")
rounded(1560, 6, 1586, 21, 7.5, "#bdbdbd")
circle(1567.5, 13.5, 5.5, "#ffffff")

# dropdowns
for label, x0, x1, cx in [("Resolution: 1 Day", 20, 129, 122), ("SMA 0 Days", 144, 227, 219.5), ("Scale Mixed", 242, 329, 321)]:
    text(x0 - 0.5, 59, label, 11.2, "#666666")
    poly([(cx - 4, 57), (cx, 61), (cx + 4, 57)], "#666666")
    rect(x0, 69, x1, 70, fill="#dddddd")

# legend
circle(24, 97, 3.7, PINK)
text(31, 97, "BTC: Price Drawdown from ATH", 11.2, "#555555")
circle(219, 97, 3, "#000000")
text(226, 97, "BTC: Price [USD]", 11.2, "#555555")

# range buttons
text(1146, 60, "Latest: 15h ago", 11.2, "#777777")
rect(1248, 44, 1547, 74, fill="#f6f7f9")
for label, cx in range_buttons:
    text(cx, 59, label, 12.5, "#666666", "center")
rect(1524, 52, 1535, 63, line="#555555", lw=1)
shapes[-1]["line"]["dash"] = "dot"
circle(1532, 60, 3, "#f6f7f9", "#555555")
poly([(1534, 62.5), (1536.5, 65)], "#555555")
rect(1555, 44, 1584, 73, fill="#ffffff", line="#cfcfcf")
rect(1563, 53, 1577, 65, line="#333333")
poly([(1563, 56.5), (1577, 56.5)], "#333333")
poly([(1566, 51.5), (1566, 54)], "#333333")
poly([(1574, 51.5), (1574, 54)], "#333333")
rect(1551, 88, 1581, 118, fill="#f6f7f9")
rect(1561, 99, 1573, 107, line="#333333")
poly([(1564, 99), (1565, 97), (1569, 97), (1570, 99)], "#333333")
circle(1567, 103, 2, line="#333333")

# navigator background and handles
rect(64, 751, 1545, 794, fill="#f0f0f0", layer="below")
for a, b in [(59.5, 69), (1544.5, 1554)]:
    rounded(a, 761.5, b, 783, 1.5, "#d6d6d6", "#aaaaaa")
    poly([((a + b) / 2, 765), ((a + b) / 2, 779)], "#9a9a9a", 1.6)

# watermark
text(800, 392, "glassnode", 85.5, "rgba(60,60,60,0.2)", "center", weight=500)

fig.update_layout(
    template="none",
    width=W, height=H, margin=dict(l=0, r=0, t=0, b=0, pad=0), autosize=False,
    paper_bgcolor="#ffffff", plot_bgcolor="rgba(0,0,0,0)", showlegend=False,
    font=dict(family=FONT, color=GREY), shapes=shapes, annotations=notes,
    xaxis=dict(domain=[fx(72.5), fx(1531)], range=[2010.535, 2026.37], anchor="y", tickvals=year_ticks,
               ticktext=[str(y) for y in year_ticks], ticks="outside", ticklen=7, tickcolor="#e8e9ee", tickwidth=1,
               showgrid=False, zeroline=False, showline=True, linecolor="#eef0f6", linewidth=2, automargin=False,
               tickfont=dict(size=11, color=GREY)),
    yaxis=dict(domain=[fy(695), fy(130)], range=[-99.12, 0], anchor="free", position=fx(66.5), side="left",
               tickvals=dd_ticks, ticktext=dd_labels, ticks="outside", ticklen=8, tickcolor="rgba(0,0,0,0)",
               gridcolor=GRID, gridwidth=1, zeroline=False, showline=True, linecolor=PINK, linewidth=2, automargin=False,
               tickfont=dict(size=10.5, color=GREY)),
    yaxis2=dict(domain=[fy(695), fy(130)], type="log", range=[-1.405, 6], overlaying="y", anchor="free",
                position=fx(1539), side="right", tickvals=price_ticks, ticktext=price_labels, ticks="outside",
                ticklen=6, tickcolor="rgba(0,0,0,0)", showgrid=False, zeroline=False, showline=True, automargin=False,
                linecolor="#000000", linewidth=2, tickfont=dict(size=10.5, color=GREY)),
    xaxis2=dict(domain=[fx(64), fx(1545)], range=[2010.54, 2026.37], anchor="y3", tickvals=year_ticks,
                showticklabels=False, ticks="outside", ticklen=4, tickcolor="#dddddd", showgrid=False,
                zeroline=False, showline=False, automargin=False),
    yaxis3=dict(domain=[fy(794), fy(758)], range=[-119, 0], anchor="x2", visible=False),
    yaxis4=dict(domain=[fy(794), fy(758)], type="log", range=[-3, 6], overlaying="y3", anchor="x2", visible=False),
)

fig.write_html("out.html", config={"displayModeBar": False}, post_script="document.body.style.margin='0';")
